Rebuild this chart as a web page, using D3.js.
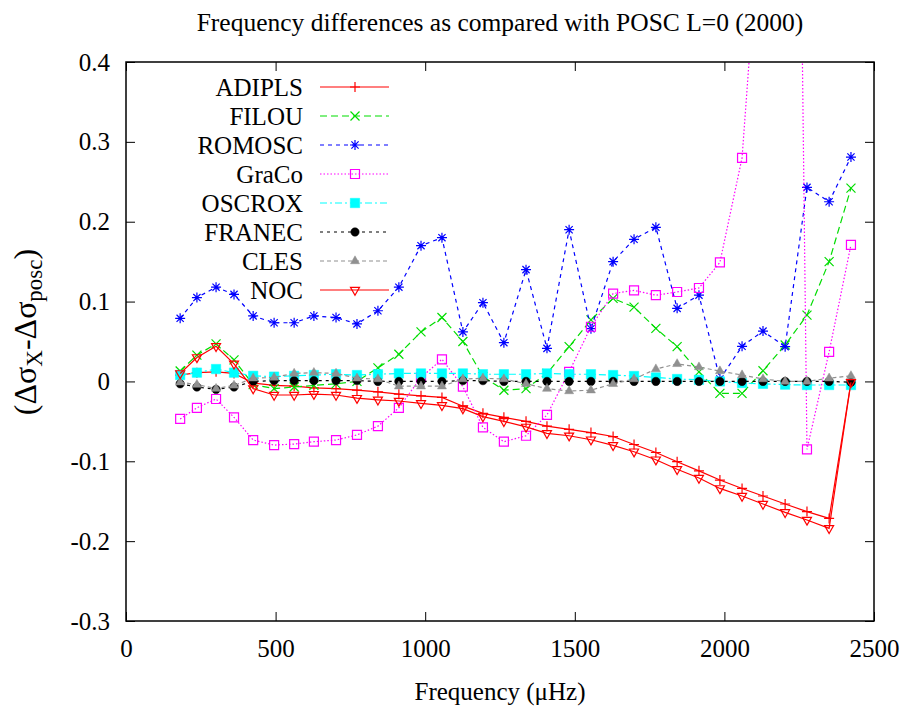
<!DOCTYPE html>
<html>
<head>
<meta charset="utf-8">
<script src="https://cdn.jsdelivr.net/npm/d3@7"></script>
<style>
  body { margin: 0; background: #fff; }
  svg { display: block; font-family: "Liberation Serif", "Times New Roman", serif; }
</style>
</head>
<body>
<svg id="chart" width="904" height="711"></svg>
<script>
// frequencies of the L=0 modes (muHz)
const freqs = [181, 237, 301, 361, 425, 495, 562, 628, 702, 772, 842, 912, 986, 1056, 1126, 1193,
  1263, 1337, 1407, 1481, 1554, 1628, 1698, 1771, 1842, 1915, 1985, 2059, 2129, 2203, 2276, 2350, 2423];

const adipls = [0.008, 0.011, 0.012, 0.010, -0.002, -0.005, -0.006, -0.008, -0.009, -0.011, -0.013,
  -0.016, -0.018, -0.020, -0.031, -0.040, -0.045, -0.050, -0.056, -0.060, -0.064, -0.069, -0.079,
  -0.089, -0.1005, -0.112, -0.1235, -0.134, -0.1435, -0.1535, -0.163, -0.1715, -0.001];
const filou = [0.013, 0.033, 0.047, 0.027, -0.004, -0.009, -0.007, -0.005, -0.003, 0.000, 0.017,
  0.034, 0.062, 0.080, 0.050, 0.006, -0.011, -0.009, 0.010, 0.0435, 0.077, 0.104, 0.093, 0.0665,
  0.0435, 0.012, -0.015, -0.015, 0.0134, 0.0456, 0.083, 0.150, 0.242];
const romosc = [0.079, 0.105, 0.118, 0.109, 0.082, 0.0735, 0.0735, 0.082, 0.080, 0.072, 0.0885,
  0.118, 0.170, 0.180, 0.062, 0.0986, 0.0485, 0.140, 0.0414, 0.190, 0.066, 0.150, 0.178, 0.193,
  0.0915, 0.108, 0.003, 0.044, 0.063, 0.0435, 0.243, 0.225, 0.281];
const graco = [-0.047, -0.033, -0.022, -0.045, -0.0734, -0.0797, -0.0784, -0.0755, -0.0734, -0.067,
  -0.056, -0.033, 0.005, 0.0277, -0.0066, -0.0575, -0.0755, -0.068, -0.042, 0.012, 0.0685, 0.110,
  0.114, 0.108, 0.112, 0.117, 0.149, 0.280, 0.64, 2.24, -0.085, 0.037, 0.171];
const oscrox = [0.008, 0.011, 0.0155, 0.011, 0.007, 0.006, 0.007, 0.008, 0.009, 0.008, 0.009,
  0.010, 0.010, 0.010, 0.010, 0.009, 0.009, 0.009, 0.010, 0.009, 0.009, 0.008, 0.0068, 0.005,
  0.003, 0.002, 0.000, -0.002, -0.003, -0.004, -0.0045, -0.0045, -0.0045];
const franec = [-0.003, -0.007, -0.010, -0.007, 0.000, 0.001, 0.001, 0.001, 0.001, 0.001, 0.000,
  0.000, 0.000, 0.000, 0.001, 0.001, 0.000, 0.000, 0.000, 0.000, 0.000, 0.000, 0.000, 0.000,
  0.000, 0.000, 0.000, 0.000, 0.000, 0.000, 0.000, 0.000, -0.001];
const cles = [-0.001, -0.004, -0.009, -0.005, 0.004, 0.005, 0.010, 0.011, 0.010, 0.004, 0.003,
  -0.006, -0.006, -0.006, 0.003, 0.004, 0.003, -0.003, -0.009, -0.012, -0.011, -0.003, 0.003,
  0.0155, 0.022, 0.018, 0.013, 0.008, 0.003, 0.000, 0.000, 0.004, 0.007];
const noc = [0.010, 0.030, 0.044, 0.022, -0.009, -0.017, -0.017, -0.016, -0.017, -0.021, -0.023,
  -0.0245, -0.0275, -0.030, -0.034, -0.044, -0.050, -0.057, -0.065, -0.068, -0.073, -0.080, -0.088,
  -0.098, -0.110, -0.121, -0.134, -0.1435, -0.1535, -0.164, -0.1735, -0.184, -0.001];

const seriesNames = ["ADIPLS", "FILOU", "ROMOSC", "GraCo", "OSCROX", "FRANEC", "CLES", "NOC"];
const xTicks = [0, 500, 1000, 1500, 2000, 2500];
const xTickLabels = ["0", "500", "1000", "1500", "2000", "2500"];
const yTicks = [-0.3, -0.2, -0.1, 0, 0.1, 0.2, 0.3, 0.4];
const yTickLabels = ["-0.3", "-0.2", "-0.1", "0", "0.1", "0.2", "0.3", "0.4"];

const FONT = '"Liberation Serif", "Times New Roman", serif';

const margin = { top: 62, right: 30, bottom: 90, left: 126 };
const width = 904 - margin.left - margin.right;
const height = 711 - margin.top - margin.bottom;

const svg = d3.select("#chart").attr("font-family", FONT);
const g = svg.append("g").attr("transform", `translate(${margin.left},${margin.top})`);

const x = d3.scaleLinear().domain([0, 2500]).range([0, width]);
const y = d3.scaleLinear().domain([-0.3, 0.4]).range([height, 0]);

// marker shapes, gnuplot style
const markers = {
  plus: (s) => `M${-s},0H${s}M0,${-s}V${s}`,
  cross: (s) => `M${-s},${-s}L${s},${s}M${-s},${s}L${s},${-s}`,
  star: (s) => markers.plus(s) + markers.cross(s * 0.72),
  square: (s) => `M${-s},${-s}h${2 * s}v${2 * s}h${-2 * s}Z`,
  circle: (s) => `M${s},0A${s},${s} 0 1,1 ${-s},0A${s},${s} 0 1,1 ${s},0Z`,
  triUp: (s) => `M0,${-s * 1.15}L${s},${s * 0.6}L${-s},${s * 0.6}Z`,
  triDown: (s) => `M0,${s * 1.15}L${s},${-s * 0.6}L${-s},${-s * 0.6}Z`,
};

const series = [
  { values: adipls, color: "#ff0000", dash: null, marker: "plus", size: 5, fill: false },
  { values: filou, color: "#00dd00", dash: "7,4", marker: "cross", size: 4.5, fill: false },
  { values: romosc, color: "#0000ff", dash: "4,4", marker: "star", size: 5, fill: false },
  { values: graco, color: "#ff00ff", dash: "1.5,2", marker: "square", size: 4.5, fill: false },
  { values: oscrox, color: "#00ffff", dash: "7,3,2,3", marker: "square", size: 4.7, fill: true },
  { values: franec, color: "#000000", dash: "3,4", marker: "circle", size: 4.2, fill: true },
  { values: cles, color: "#909090", dash: "4,3", marker: "triUp", size: 4.5, fill: true },
  { values: noc, color: "#ff0000", dash: null, marker: "triDown", size: 4.5, fill: false },
].map((s, i) => ({ ...s, name: seriesNames[i] }));

// axes with inward ticks on all four sides
const tickLen = 9;
const fmtX = (d) => xTickLabels[xTicks.indexOf(d)];
const fmtY = (d) => yTickLabels[yTicks.indexOf(d)];

const axisStyle = (sel) => {
  sel.attr("font-family", FONT).attr("font-size", 25);
  sel.select(".domain").remove();
  sel.selectAll(".tick line").attr("stroke", "#000").attr("stroke-width", 1);
  sel.selectAll(".tick text").attr("fill", "#000");
};

g.append("g")
  .attr("transform", `translate(0,${height})`)
  .call(d3.axisBottom(x).tickValues(xTicks).tickFormat(fmtX).tickSize(-tickLen).tickPadding(18))
  .call(axisStyle);
g.append("g")
  .call(d3.axisTop(x).tickValues(xTicks).tickFormat("").tickSize(-tickLen))
  .call(axisStyle);
g.append("g")
  .call(d3.axisLeft(y).tickValues(yTicks).tickFormat(fmtY).tickSize(-tickLen).tickPadding(16))
  .call(axisStyle);
g.append("g")
  .attr("transform", `translate(${width},0)`)
  .call(d3.axisRight(y).tickValues(yTicks).tickFormat("").tickSize(-tickLen))
  .call(axisStyle);

g.append("defs").append("clipPath").attr("id", "plot-clip")
  .append("rect").attr("width", width).attr("height", height);

const plot = g.append("g").attr("clip-path", "url(#plot-clip)");

const line = d3.line()
  .x((d) => x(d[0]))
  .y((d) => y(d[1]));

series.forEach((s) => {
  const pts = freqs.map((f, i) => [f, s.values[i]]);
  plot.append("path")
    .datum(pts)
    .attr("fill", "none")
    .attr("stroke", s.color)
    .attr("stroke-width", 1.2)
    .attr("stroke-dasharray", s.dash)
    .attr("d", line);

  plot.append("g")
    .selectAll("path")
    .data(pts)
    .join("path")
    .attr("transform", (d) => `translate(${x(d[0])},${y(d[1])})`)
    .attr("d", markers[s.marker](s.size))
    .attr("fill", s.fill ? s.color : "none")
    .attr("stroke", s.color)
    .attr("stroke-width", s.fill ? 0.5 : 1.2);
});

// frame
g.append("rect")
  .attr("width", width)
  .attr("height", height)
  .attr("fill", "none")
  .attr("stroke", "#000")
  .attr("stroke-width", 1.5);

// legend
const legend = svg.append("g").attr("transform", "translate(0,87)");
const legendRows = legend.selectAll("g")
  .data(series)
  .join("g")
  .attr("transform", (d, i) => `translate(0,${i * 29})`);

legendRows.append("text")
  .attr("x", 303)
  .attr("y", 8.5)
  .attr("text-anchor", "end")
  .attr("font-size", 25)
  .text((d) => d.name);

legendRows.append("line")
  .attr("x1", 320)
  .attr("x2", 389)
  .attr("stroke", (d) => d.color)
  .attr("stroke-width", 1.2)
  .attr("stroke-dasharray", (d) => d.dash);

legendRows.append("path")
  .attr("transform", "translate(355,0)")
  .attr("d", (d) => markers[d.marker](d.size))
  .attr("fill", (d) => (d.fill ? d.color : "none"))
  .attr("stroke", (d) => d.color)
  .attr("stroke-width", (d) => (d.fill ? 0.5 : 1.2));

// titles
svg.append("text")
  .attr("x", margin.left + width / 2)
  .attr("y", 31)
  .attr("text-anchor", "middle")
  .attr("font-size", 25.5)
  .text("Frequency differences as compared with POSC L=0 (2000)");

svg.append("text")
  .attr("x", margin.left + width / 2)
  .attr("y", 700)
  .attr("text-anchor", "middle")
  .attr("font-size", 25)
  .text("Frequency (\u03bcHz)");

const yl = svg.append("text")
  .attr("transform", "translate(36,332) rotate(-90)")
  .attr("text-anchor", "middle")
  .attr("font-size", 32);
yl.append("tspan").text("(\u0394\u03c3");
yl.append("tspan").attr("font-size", 23).attr("dy", 6).text("X");
yl.append("tspan").attr("dy", -6).text("-\u0394\u03c3");
yl.append("tspan").attr("font-size", 23).attr("dy", 6).text("posc");
yl.append("tspan").attr("dy", -6).text(")");
</script>
</body>
</html>
